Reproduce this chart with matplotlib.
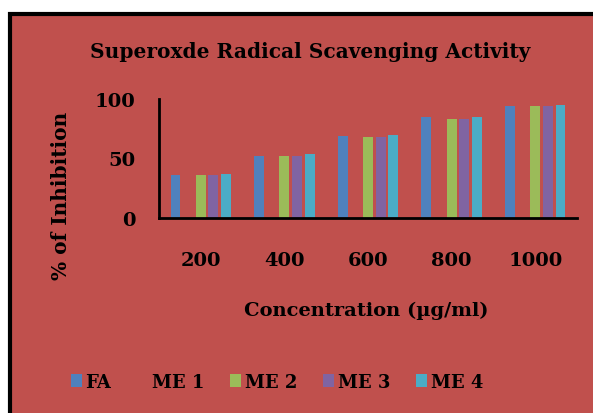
import numpy as np
import matplotlib.pyplot as plt
from matplotlib.patches import Rectangle, Patch

concentrations = ["200", "400", "600", "800", "1000"]
series_names = ["FA", "ME 1", "ME 2", "ME 3", "ME 4"]
fa = [36, 52, 68.5, 84.5, 94.3]
me1 = [36, 52, 68, 83.5, 94.3]
me2 = [36, 52, 68, 83.3, 94.3]
me3 = [36, 52, 68, 83.3, 94.3]
me4 = [37, 53.4, 69.5, 84.5, 94.6]
colors = ["#4f81bd", "#c0504d", "#9bbb59", "#8064a2", "#4bacc6"]

bg = "#c0504d"
plt.rcParams["font.family"] = ["DejaVu Serif"]
plt.rcParams["font.weight"] = "bold"

W, H = 593, 414
fig = plt.figure(figsize=(W / 100, H / 100), dpi=100, facecolor="white")

# chart area frame
fig.patches.append(Rectangle((10 / W, -0.1), 1.2, 1 - 14.5 / H + 0.1,
                             transform=fig.transFigure, facecolor=bg,
                             edgecolor="black", linewidth=3, zorder=-5))

ax = fig.add_axes([159 / W, 1 - 219 / H, (577 - 159) / W, (219 - 100) / H])
ax.set_facecolor("none")
ax.set_zorder(2)

x = np.arange(len(concentrations))
step = 0.151
for i, (vals, c) in enumerate(zip([fa, me1, me2, me3, me4], colors)):
    ax.bar(x + (i - 2) * step, vals, width=0.118, color=c)

ax.set_xlim(-0.5, 4.5)
ax.set_ylim(0, 100)
ax.set_yticks([0, 50, 100])
ax.set_xticks(x)
ax.set_xticklabels(concentrations)
for s in ["top", "right"]:
    ax.spines[s].set_visible(False)
for s in ["left", "bottom"]:
    ax.spines[s].set_linewidth(2)
ax.tick_params(axis="y", length=0, pad=17, labelsize=14)
ax.tick_params(axis="x", length=0, pad=24, labelsize=14)
for lab in ax.get_xticklabels() + ax.get_yticklabels():
    lab.set_fontweight("bold")

fig.text(310 / W, 1 - 52 / H, "Superoxde Radical Scavenging Activity",
         ha="center", va="center", fontsize=14.5, fontweight="bold")
fig.text(366 / W, 1 - 311 / H, "Concentration (µg/ml)",
         ha="center", va="center", fontsize=14, fontweight="bold")
fig.text(61 / W, 1 - 196 / H, "% of Inhibition", rotation=90,
         ha="center", va="center", fontsize=14.5, fontweight="bold")

handles = [Patch(facecolor=c, edgecolor="none") for c in colors]
fig.legend(handles, series_names, loc="center", bbox_to_anchor=(277 / W, 1 - 383 / H),
           ncol=5, frameon=False, handlelength=0.6, handleheight=0.7,
           handletextpad=0.2, columnspacing=1.45,
           prop={"size": 13, "weight": "bold"})

fig.savefig("out.png", dpi=100, facecolor="white")
